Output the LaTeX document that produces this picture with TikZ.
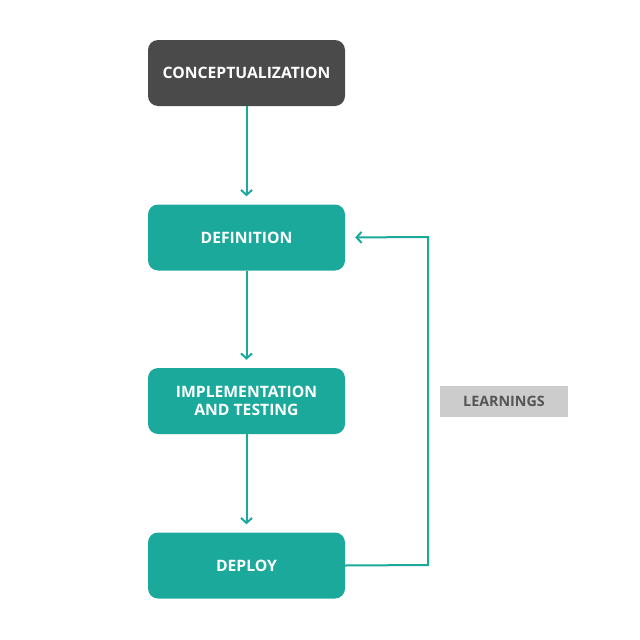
\documentclass[tikz,border=0pt]{standalone}
\usepackage{fontspec}
\setmainfont{Open Sans}
\usetikzlibrary{arrows.meta}
\definecolor{teal1}{HTML}{1AA99B}
\definecolor{dark1}{HTML}{4A4A4A}
\definecolor{grey1}{HTML}{CCCCCC}
\definecolor{greytext}{HTML}{555555}
\begin{document}
\begin{tikzpicture}[x=1pt,y=-1pt,
  stage/.style={rounded corners=10pt, minimum width=197pt, minimum height=66pt, inner sep=0pt,
    text=white, font=\fontsize{15.7}{18.5}\selectfont\bfseries, align=center, fill=teal1},
  conn/.style={draw=teal1, line width=2pt, -{Straight Barb[length=5pt,width=11pt,line width=2pt]}},
  learn/.style={fill=grey1, minimum width=128pt, minimum height=31pt, inner sep=0pt,
    text=greytext, font=\fontsize{14.3}{17}\selectfont\bfseries}]
\useasboundingbox (0,0) rectangle (640,640);
\node[stage, fill=dark1] (c) at (246.5,73) {CONCEPTUALIZATION};
\node[stage] (d) at (246.5,237.5) {DEFINITION};
\node[stage] (i) at (246.5,401) {IMPLEMENTATION\\AND TESTING};
\node[stage] (p) at (246.5,565.5) {DEPLOY};
\node[learn] (l) at (504,401.5) {LEARNINGS};
\coordinate (r1) at (428,565);
\coordinate (r2) at (428,237);
\draw[conn, shorten >=8pt] (c) -- (d);
\draw[conn, shorten >=8pt] (d) -- (i);
\draw[conn, shorten >=8pt] (i) -- (p);
\draw[conn, shorten >=10pt] (p.east) -- (r1) -- (r2) -- (d.east);
\end{tikzpicture}
\end{document}
